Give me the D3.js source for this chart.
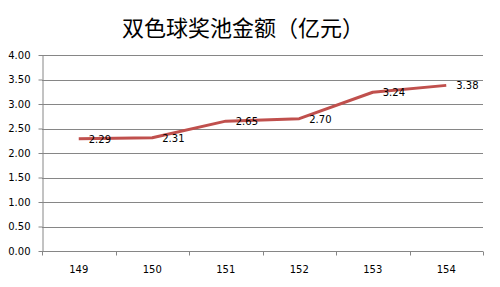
<!DOCTYPE html>
<html>
<head>
<meta charset="utf-8">
<script src="https://cdn.jsdelivr.net/npm/d3@7"></script>
<style>
  body { margin: 0; background: #fff; }
  .axis text { font-family: "DejaVu Sans", sans-serif; font-size: 10px; fill: #000; }
  .axis path, .axis line { stroke: #868686; }
</style>
</head>
<body>
<div id="chart"></div>
<script>
// issue numbers and jackpot (100 million yuan)
var categories = ["149", "150", "151", "152", "153", "154"];
var values = [2.29, 2.31, 2.65, 2.70, 3.24, 3.38];
var yTicks = [0, 0.5, 1, 1.5, 2, 2.5, 3, 3.5, 4];
var title = "双色球奖池金额（亿元）";

var margin = {top: 55, right: 17, bottom: 36, left: 42},
    width = 500 - margin.left - margin.right,
    height = 287 - margin.top - margin.bottom;

var svg = d3.select("#chart").append("svg")
    .attr("width", 500)
    .attr("height", 287)
  .append("g")
    .attr("transform", "translate(" + margin.left + "," + margin.top + ")");

var x = d3.scaleBand()
    .domain(categories)
    .range([0, width]);

var y = d3.scaleLinear()
    .domain([0, 4])
    .range([height, 0]);

// title
svg.append("text")
    .attr("x", 243 - margin.left)
    .attr("y", -29)
    .attr("text-anchor", "middle")
    .attr("dominant-baseline", "central")
    .style("font-family", "'Noto Sans CJK SC', sans-serif")
    .style("font-size", "22px")
    .text(title);

// gridlines
svg.append("g")
  .selectAll("line")
  .data(yTicks)
  .enter().append("line")
    .attr("x1", 0)
    .attr("x2", width)
    .attr("y1", function(d) { return Math.round(y(d)) + 0.5; })
    .attr("y2", function(d) { return Math.round(y(d)) + 0.5; })
    .attr("stroke", "#868686");

// y axis
svg.append("g")
    .attr("class", "axis")
    .attr("transform", "translate(0.5,0)")
    .call(d3.axisLeft(y).tickValues(yTicks).tickFormat(d3.format(".2f")).tickSize(4).tickPadding(8).tickSizeOuter(0));

// x axis with ticks at band boundaries
var xAxis = svg.append("g")
    .attr("class", "axis")
    .attr("transform", "translate(0," + (Math.round(height) + 0.5) + ")");

xAxis.append("line")
    .attr("x1", 0).attr("x2", width)
    .attr("stroke", "#868686");

xAxis.selectAll(".bt")
  .data(categories.concat([null]))
  .enter().append("line")
    .attr("class", "bt")
    .attr("x1", function(d, i) { return Math.round(i * x.step()) + 0.5; })
    .attr("x2", function(d, i) { return Math.round(i * x.step()) + 0.5; })
    .attr("y1", 0).attr("y2", 4)
    .attr("stroke", "#868686");

xAxis.selectAll("text")
  .data(categories)
  .enter().append("text")
    .attr("x", function(d) { return x(d) + x.bandwidth() / 2; })
    .attr("y", 21)
    .attr("text-anchor", "middle")
    .text(function(d) { return d; });

// line
var line = d3.line()
    .x(function(d, i) { return x(categories[i]) + x.bandwidth() / 2; })
    .y(function(d) { return y(d); });

svg.append("path")
    .datum(values)
    .attr("fill", "none")
    .attr("stroke", "#c0504d")
    .attr("stroke-width", 3)
    .attr("stroke-linejoin", "round")
    .attr("d", line);

// data labels
svg.append("g")
  .selectAll("text")
  .data(values)
  .enter().append("text")
    .attr("x", function(d, i) { return x(categories[i]) + x.bandwidth() / 2 + 10; })
    .attr("y", function(d) { return y(d) + 4; })
    .style("font-family", "'DejaVu Sans', sans-serif")
    .style("font-size", "10px")
    .text(function(d) { return d3.format(".2f")(d); });
</script>
</body>
</html>
